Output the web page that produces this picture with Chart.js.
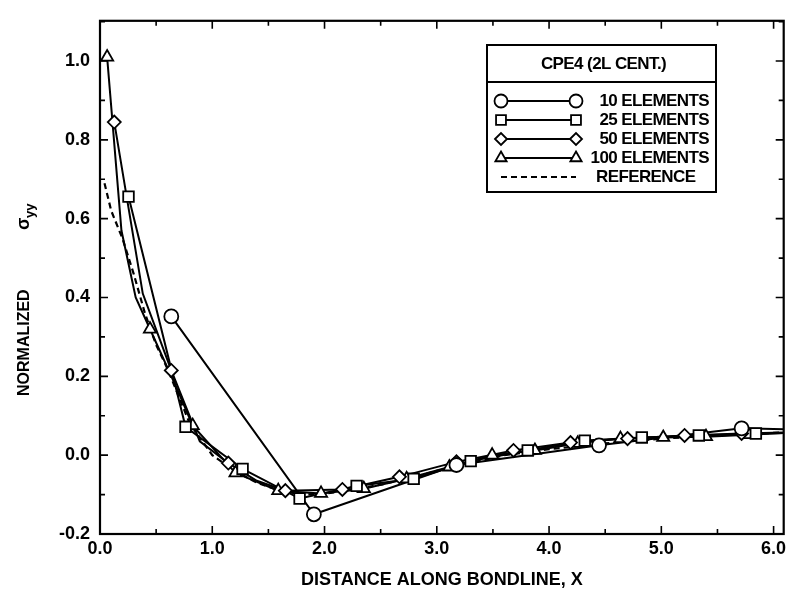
<!DOCTYPE html>
<html><head><meta charset="utf-8">
<script src="https://cdn.jsdelivr.net/npm/chart.js@4/dist/chart.umd.min.js"></script>
<style>html,body{margin:0;padding:0;background:#fff}</style>
</head><body>
<canvas id="c" width="793" height="598"></canvas>
<script>
// ---- data ----
const xTickValues = [0, 1, 2, 3, 4, 5, 6];
const yTickValues = [-0.2, 0.0, 0.2, 0.4, 0.6, 0.8, 1.0];
const xTitle = 'DISTANCE ALONG BONDLINE, X';
const yTitleMain = 'NORMALIZED';
const yTitleSym = 'σ';
const yTitleSub = 'yy';
const legendTitle = 'CPE4 (2L CENT.)';
const seriesNames = ['10 ELEMENTS', '25 ELEMENTS', '50 ELEMENTS', '100 ELEMENTS', 'REFERENCE'];

// 10 elements (circles)
const el10X = [0.635, 1.905, 3.175, 4.445, 5.715, 6.985];
const el10Y = [0.352, -0.150, -0.025, 0.025, 0.068, 0.060];
// 25 elements (squares)
const el25X = [0.254, 0.762, 1.270, 1.778, 2.286, 2.794, 3.302, 3.810, 4.318, 4.826, 5.334, 5.842, 6.350];
const el25Y = [0.656, 0.072, -0.035, -0.110, -0.078, -0.060, -0.015, 0.012, 0.037, 0.045, 0.050, 0.055, 0.058];
// 50 elements (diamonds) - marked points
const el50X = [0.127, 0.635, 1.143, 1.651, 2.159, 2.667, 3.175, 3.683, 4.191, 4.699, 5.207, 5.715, 6.223];
const el50Y = [0.845, 0.215, -0.020, -0.090, -0.087, -0.055, -0.017, 0.012, 0.032, 0.042, 0.050, 0.055, 0.058];
// 50 elements - unmarked vertices visible as bends
const el50BendX = [0.381, 0.889, 1.397];
const el50BendY = [0.410, 0.035, -0.065];
// 100 elements (triangles) - marked points
const el100X = [0.0635, 0.445, 0.826, 1.207, 1.588, 1.969, 2.350, 2.731, 3.112, 3.493, 3.874, 4.255, 4.636, 5.017, 5.398, 5.779, 6.160];
const el100Y = [1.010, 0.320, 0.075, -0.045, -0.090, -0.097, -0.085, -0.060, -0.030, 0.000, 0.012, 0.030, 0.042, 0.045, 0.047, 0.052, 0.057];
// 100 elements - unmarked vertices visible as bends
const el100BendX = [0.191, 0.318, 0.699];
const el100BendY = [0.570, 0.400, 0.160];
// reference solution (dashed)
const refX = [0.04, 0.10, 0.20, 0.30, 0.40, 0.50, 0.60, 0.70, 0.80, 0.90, 1.00, 1.10, 1.20, 1.40, 1.60, 1.80, 2.00, 2.20, 2.50, 2.80, 3.00, 3.30, 3.60, 4.00, 4.50, 5.00, 5.50, 6.10];
const refY = [0.69, 0.62, 0.55, 0.46, 0.36, 0.28, 0.22, 0.15, 0.08, 0.04, 0.00, -0.02, -0.04, -0.07, -0.09, -0.10, -0.098, -0.09, -0.075, -0.055, -0.04, -0.02, 0.00, 0.015, 0.03, 0.042, 0.05, 0.058];

// ---- helpers ----
const pts = (xs, ys) => xs.map((x, i) => ({x, y: ys[i]}));
const merged = (xs, ys, bx, by) => pts(xs, ys).concat(pts(bx, by)).sort((a, b) => a.x - b.x);

const FONT = "'Liberation Sans', Arial, Helvetica, sans-serif";
const INK = '#000';
const LW = 2;

function lineDs(data) {
  return {data, showLine: true, borderColor: INK, borderWidth: LW, pointRadius: 0, pointHoverRadius: 0, order: 2};
}
function markDs(data, style, r) {
  return {data, showLine: false, pointStyle: style, pointRadius: r, pointHoverRadius: r,
    pointBackgroundColor: '#fff', pointBorderColor: INK, pointBorderWidth: 1.8, order: 1};
}
const markers = [
  {style: 'circle', r: 7},
  {style: 'rect', r: 7.5},
  {style: 'rectRot', r: 6.5},
  {style: 'triangle', r: 7}
];

const datasets = [
  lineDs(pts(el10X, el10Y)), markDs(pts(el10X, el10Y), markers[0].style, markers[0].r),
  lineDs(pts(el25X, el25Y)), markDs(pts(el25X, el25Y), markers[1].style, markers[1].r),
  lineDs(merged(el50X, el50Y, el50BendX, el50BendY)), markDs(pts(el50X, el50Y), markers[2].style, markers[2].r),
  lineDs(merged(el100X, el100Y, el100BendX, el100BendY)), markDs(pts(el100X, el100Y), markers[3].style, markers[3].r),
  {data: pts(refX, refY), showLine: true, borderColor: INK, borderWidth: 2.2, borderDash: [6, 4], pointRadius: 0, order: 3}
];

// frame + inward ticks
const framePlugin = {
  id: 'frame',
  afterDraw(chart) {
    const {ctx, chartArea: a, scales: {x, y}} = chart;
    ctx.save();
    ctx.strokeStyle = INK;
    ctx.lineWidth = 2.2;
    ctx.strokeRect(a.left, a.top, a.right - a.left, a.bottom - a.top);
    ctx.lineWidth = 1.6;
    ctx.beginPath();
    for (let v = 0; v <= 6.0001; v += 0.5) {
      const px = x.getPixelForValue(v);
      const len = Math.abs(v - Math.round(v)) < 1e-6 ? 8 : 5;
      ctx.moveTo(px, a.bottom); ctx.lineTo(px, a.bottom - len);
      ctx.moveTo(px, a.top); ctx.lineTo(px, a.top + len);
    }
    for (let k = -2; k <= 11; k++) {
      const v = k / 10;
      const py = y.getPixelForValue(v);
      const len = k % 2 === 0 ? 8 : 5;
      ctx.moveTo(a.left, py); ctx.lineTo(a.left + len, py);
      ctx.moveTo(a.right, py); ctx.lineTo(a.right - len, py);
    }
    ctx.stroke();
    ctx.restore();
  }
};

// y title with subscript
const yTitlePlugin = {
  id: 'ytitle',
  afterDraw(chart) {
    const ctx = chart.ctx;
    ctx.save();
    ctx.fillStyle = INK;
    ctx.translate(29, 0);
    ctx.rotate(-Math.PI / 2);
    ctx.textBaseline = 'alphabetic';
    ctx.textAlign = 'left';
    ctx.font = 'bold 16px ' + FONT;
    ctx.fillText(yTitleMain, -396, 0);
    ctx.font = 'bold 18px ' + FONT;
    ctx.fillText(yTitleSym, -230, 0);
    ctx.font = 'bold 13px ' + FONT;
    ctx.fillText(yTitleSub, -218, 5);
    ctx.restore();
  }
};

// boxed legend
const legendPlugin = {
  id: 'boxlegend',
  afterDraw(chart) {
    const ctx = chart.ctx;
    const L = 487, T = 45, R = 716, B = 192, SEP = 82;
    ctx.save();
    ctx.fillStyle = '#fff';
    ctx.fillRect(L, T, R - L, B - T);
    ctx.strokeStyle = INK;
    ctx.lineWidth = 2;
    ctx.strokeRect(L, T, R - L, B - T);
    ctx.beginPath(); ctx.moveTo(L, SEP); ctx.lineTo(R, SEP); ctx.stroke();
    ctx.fillStyle = INK;
    ctx.font = 'bold 17px ' + FONT;
    if ('letterSpacing' in ctx) ctx.letterSpacing = '-0.6px';
    ctx.textAlign = 'center'; ctx.textBaseline = 'middle';
    ctx.fillText(legendTitle, (L + R) / 2 + 2, 64);
    const rows = [101, 120, 139, 158, 177];
    const x1 = 501, x2 = 576;
    for (let i = 0; i < 5; i++) {
      const yy = rows[i];
      ctx.lineWidth = LW;
      ctx.beginPath();
      if (i === 4) { ctx.setLineDash([6, 4]); ctx.lineWidth = 2.2; }
      ctx.moveTo(x1, yy); ctx.lineTo(x2, yy); ctx.stroke();
      ctx.setLineDash([]);
      if (i < 4) {
        const m = markers[i];
        const opt = {pointStyle: m.style, radius: m.r - 0.5, borderWidth: 1.8};
        ctx.fillStyle = '#fff'; ctx.strokeStyle = INK; ctx.lineWidth = 1.8;
        Chart.helpers.drawPoint(ctx, opt, x1, yy);
        Chart.helpers.drawPoint(ctx, opt, x2, yy);
        ctx.fillStyle = INK;
        ctx.textAlign = 'right';
        ctx.fillText(seriesNames[i], 709, yy);
      } else {
        ctx.fillStyle = INK;
        ctx.textAlign = 'left';
        ctx.fillText(seriesNames[i], 596, yy);
      }
    }
    ctx.restore();
  }
};

new Chart(document.getElementById('c'), {
  type: 'scatter',
  data: {datasets},
  options: {
    responsive: false,
    animation: false,
    layout: {padding: {left: 0, right: 5, top: 10, bottom: 0}},
    plugins: {legend: {display: false}, tooltip: {enabled: false}},
    scales: {
      x: {
        type: 'linear', min: 0, max: 6.09,
        afterBuildTicks: s => { s.ticks = xTickValues.map(v => ({value: v})); },
        afterFit: s => { s.height = 64; },
        grid: {display: false, drawTicks: false},
        border: {display: false},
        ticks: {color: INK, font: {family: FONT, weight: 'bold', size: 18}, padding: 4,
          maxRotation: 0, autoSkip: false, callback: v => Number(v).toFixed(1)},
        title: {display: true, text: xTitle, color: INK, font: {family: FONT, weight: 'bold', size: 18}, padding: {top: 0, bottom: 7}}
      },
      y: {
        type: 'linear', min: -0.2, max: 1.102,
        afterBuildTicks: s => { s.ticks = yTickValues.map(v => ({value: v})); },
        afterFit: s => { s.width = 100; },
        grid: {display: false, drawTicks: false},
        border: {display: false},
        ticks: {color: INK, font: {family: FONT, weight: 'bold', size: 18}, padding: 10,
          autoSkip: false, callback: v => Number(v).toFixed(1)}
      }
    }
  },
  plugins: [framePlugin, yTitlePlugin, legendPlugin]
});
</script>
</body></html>
